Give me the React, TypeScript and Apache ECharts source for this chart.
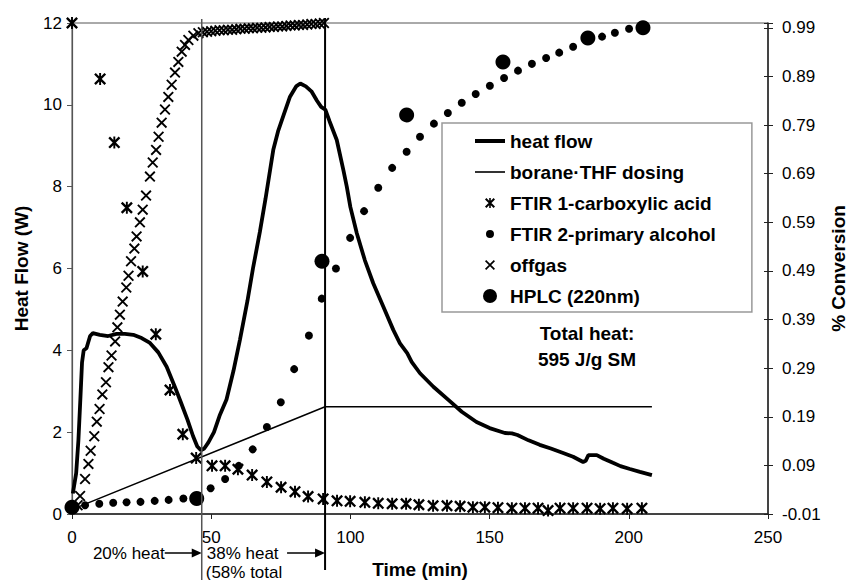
import React, { useEffect, useRef } from 'react';
import * as echarts from 'echarts';

const FONT = '"Liberation Sans", Arial, Helvetica, sans-serif';

// x axis (min) and axis ranges
const xTicks = { min: 0, max: 250, interval: 50 };
const heatTicks = { min: 0, max: 12, interval: 2 };
const convTicks = { min: -0.01, max: 1.0, interval: 0.1 };

// dosing phase boundaries (min)
const phaseMarks = [46.6, 90.9];

// heat flow (W) vs time (min)
const heatFlow: number[][] = [
  [0.3, 0.5], [1.5, 1.0], [2.3, 1.8], [3.0, 2.8], [3.6, 3.7], [4.2, 4.0], [5.2, 4.05], [6.5, 4.35],
  [7.5, 4.42], [10, 4.38], [13, 4.35], [16, 4.4], [19, 4.4], [22, 4.38], [25, 4.3], [28, 4.18],
  [31, 3.95], [34, 3.6], [37, 3.1], [39, 2.75], [41.5, 2.3], [43.5, 1.9], [45, 1.65], [46.3, 1.56],
  [47.5, 1.6], [49, 1.75], [51, 2.0], [53, 2.4], [55.5, 2.8], [58, 3.5], [60.3, 4.25], [63, 5.2],
  [65, 6.0], [67.5, 6.9], [69.5, 7.7], [72.3, 8.9], [74, 9.35], [76, 9.75], [78.3, 10.2], [80.5, 10.45],
  [82, 10.52], [84, 10.45], [86, 10.33], [88, 10.1], [89.5, 9.95], [91, 9.88], [92.5, 9.6], [95.1, 9.14],
  [97.5, 8.4], [98.7, 8.0], [100, 7.5], [102.3, 6.86], [105.2, 6.2], [108.2, 5.64], [111.8, 5.07],
  [115.4, 4.5], [117.8, 4.17], [120.4, 3.93], [122, 3.72], [125, 3.44], [129.8, 3.11], [135.5, 2.77],
  [140, 2.5], [145.3, 2.25], [150, 2.1], [155.5, 1.98], [158, 1.97], [160, 1.93], [164, 1.8],
  [168, 1.69], [172, 1.6], [176.4, 1.49], [180, 1.4], [183.6, 1.27], [184.5, 1.3], [185.5, 1.44],
  [188.5, 1.44], [191, 1.35], [194.3, 1.25], [197, 1.17], [200.4, 1.1], [204, 1.03], [208.3, 0.95]
];

// borane-THF dosing profile (W axis)
const dosing: number[][] = [[2.5, 0.18], [90.9, 2.62], [208.3, 2.62]];

// FTIR 1-carboxylic acid (conversion)
const carboxylicAcid: number[][] = [
  [0, 1.0], [10.1, 0.885], [15.2, 0.754], [19.7, 0.62], [25.4, 0.489], [30.1, 0.36], [35.2, 0.245],
  [39.8, 0.154], [44.6, 0.105], [50.3, 0.089], [55, 0.089], [59.6, 0.082], [64.7, 0.07], [70, 0.056],
  [75.1, 0.045], [80.1, 0.036], [84.8, 0.026], [90.2, 0.021], [95.2, 0.017], [99.9, 0.016],
  [105.2, 0.014], [110, 0.012], [115, 0.011], [120, 0.011], [124.6, 0.009], [129.7, 0.007],
  [134.7, 0.007], [139.4, 0.006], [144, 0.004], [148.3, 0.004], [153, 0.003], [158, 0.002],
  [162.7, 0.002], [167.4, 0.002], [171, -0.003], [175.3, 0.002], [180, 0.002], [185, 0.002],
  [189.7, 0.001], [194.3, 0.002], [199.4, 0.001], [204.7, 0.002]
];

// FTIR 2-primary alcohol (conversion)
const primaryAlcohol: number[][] = [
  [4.7, 0.008], [9.8, 0.011], [14.8, 0.013], [19.6, 0.014], [24.6, 0.015], [29.7, 0.017], [34.7, 0.019],
  [40, 0.022], [49.8, 0.043], [55, 0.062], [59.9, 0.089], [64.9, 0.123], [70, 0.169], [75, 0.22],
  [79.8, 0.288], [85.1, 0.357], [89.7, 0.433], [94.8, 0.495], [99.9, 0.558], [104.9, 0.613],
  [110, 0.661], [115, 0.702], [120.2, 0.735], [125, 0.766], [130, 0.793], [135, 0.815], [140, 0.836],
  [145, 0.854], [150.1, 0.871], [155.2, 0.887], [160.2, 0.902], [165.2, 0.916], [170.3, 0.928],
  [175, 0.939], [180, 0.951], [190.4, 0.972], [195, 0.98], [200.1, 0.988]
];

// offgas (conversion)
const offgas: number[][] = [
  [2.0, 0.008], [2.9, 0.027], [4.7, 0.062], [5.9, 0.093], [6.7, 0.12], [8, 0.15], [8.9, 0.18],
  [9.9, 0.206], [10.9, 0.236], [12.2, 0.261], [13.1, 0.292], [14.2, 0.316], [15.5, 0.345],
  [16.3, 0.374], [17.2, 0.4], [18.2, 0.427], [19.5, 0.456], [20.3, 0.48], [21.2, 0.51], [22.4, 0.536],
  [23.2, 0.561], [24.4, 0.59], [25.4, 0.616], [26.6, 0.645], [28, 0.684], [29, 0.713], [30.2, 0.739],
  [31.1, 0.766], [32.2, 0.795], [33.4, 0.822], [34.6, 0.848], [35.8, 0.873], [37, 0.898], [38.2, 0.92],
  [39.4, 0.941], [40.6, 0.955], [41.8, 0.965], [43.6, 0.974], [45.4, 0.979], [47, 0.981],
  [48.5, 0.982], [50, 0.983], [51.5, 0.984], [53, 0.985], [54.5, 0.985], [56, 0.986], [57.5, 0.986],
  [59, 0.987], [60.5, 0.988], [62, 0.988], [63.5, 0.989], [65, 0.989], [66.5, 0.99], [68, 0.99],
  [69.5, 0.991], [71, 0.992], [72.5, 0.992], [74, 0.993], [75.5, 0.993], [77, 0.994], [78.5, 0.995],
  [80, 0.995], [81.5, 0.996], [83, 0.996], [84.5, 0.997], [86, 0.998], [87.5, 0.998], [89, 0.999],
  [90.5, 1.0]
];

// HPLC (220nm) (conversion)
const hplc: number[][] = [
  [0, 0.004], [44.8, 0.022], [89.8, 0.51], [120.2, 0.811], [154.8, 0.92], [185.3, 0.969], [205.1, 0.99]
];

const seriesNames = [
  'heat flow',
  'borane\u00b7THF dosing',
  'FTIR 1-carboxylic acid',
  'FTIR 2-primary alcohol',
  'offgas',
  'HPLC (220nm)'
];

const annotationTexts = ['20% heat', '38% heat', '(58% total', 'Total heat:', '595 J/g SM'];

const ASTERISK = 'path://M0,1.4L1.4,0L10,8.6L8.6,10Z M8.6,0L10,1.4L1.4,10L0,8.6Z M4.2,0H5.8V10H4.2Z';
const CROSS = 'path://M0,1.2L1.2,0L10,8.8L8.8,10Z M8.8,0L10,1.2L1.2,10L0,8.8Z';
const SPECK = ' M0,0h0.01v0.01h-0.01Z M14,14h0.01v0.01h-0.01Z';
const LEG_THICK = 'path://M0,0h30v4h-30Z';
const LEG_THIN = 'path://M0,0h30v1.6h-30Z';
const LEG_AST = 'path://M2,3.4L3.4,2L12,10.6L10.6,12Z M10.6,2L12,3.4L3.4,12L2,10.6Z M6.2,2H7.8V12H6.2Z' + SPECK;
const LEG_DOT = 'path://M3,7A4,4 0 1,1 11,7A4,4 0 1,1 3,7Z' + SPECK;
const LEG_CROSS = 'path://M2,3.2L3.2,2L12,10.8L10.8,12Z M10.8,2L12,3.2L3.2,12L2,10.8Z' + SPECK;
const LEG_BIG = 'path://M0,7A7,7 0 1,1 14,7A7,7 0 1,1 0,7Z';

export default function App() {
  const ref = useRef<HTMLDivElement>(null);

  useEffect(() => {
    if (!ref.current) return;
    const chart = echarts.init(ref.current, undefined, { renderer: 'svg' });
    const axisLabelStyle = { fontSize: 17, color: '#000', fontFamily: FONT };
    const nameStyle = { fontSize: 19, fontWeight: 'bold', color: '#000', fontFamily: FONT };
    const markStyle = { color: '#000', opacity: 1 };

    const option: any = {
      animation: false,
      backgroundColor: '#fff',
      textStyle: { fontFamily: FONT },
      grid: {
        left: 72, right: 81, top: 23, bottom: 66,
        show: true, borderColor: '#555', borderWidth: 1,
        containLabel: false, outerBoundsMode: 'none'
      },
      xAxis: {
        type: 'value', ...xTicks,
        name: 'Time (min)', nameLocation: 'middle', nameGap: 46, nameTextStyle: nameStyle,
        nameMoveOverlap: false,
        axisLine: { show: true, onZero: false, lineStyle: { color: '#222', width: 1.5 } },
        axisTick: { show: true, length: 5, lineStyle: { color: '#222' } },
        axisLabel: { ...axisLabelStyle, margin: 15 },
        splitLine: { show: false }
      },
      yAxis: [
        {
          type: 'value', position: 'left', ...heatTicks,
          name: 'Heat Flow (W)', nameLocation: 'middle', nameRotate: 90, nameGap: 41, nameTextStyle: nameStyle,
          nameMoveOverlap: false,
          axisLine: { show: true, lineStyle: { color: '#555', width: 1.2 } },
          axisTick: { show: true, length: 5, lineStyle: { color: '#555' } },
          axisLabel: { ...axisLabelStyle, margin: 10 },
          splitLine: { show: false }
        },
        {
          type: 'value', position: 'right', ...convTicks,
          name: '% Conversion', nameLocation: 'middle', nameRotate: 90, nameGap: 61, nameTextStyle: nameStyle,
          nameMoveOverlap: false,
          axisLine: { show: true, lineStyle: { color: '#222', width: 1.5 } },
          axisTick: { show: true, length: 5, lineStyle: { color: '#222' } },
          axisLabel: {
            ...axisLabelStyle, margin: 14,
            formatter: (v: number) => (v > 0.995 ? '' : v.toFixed(2))
          },
          splitLine: { show: false }
        },
        {
          type: 'value', position: 'right', ...convTicks,
          axisLine: { show: false },
          axisTick: { show: true, inside: true, length: 4, lineStyle: { color: '#222' } },
          axisLabel: { show: false },
          splitLine: { show: false }
        }
      ],
      legend: {
        orient: 'vertical', left: 442, top: 123,
        padding: [8, 36, 6, 33], itemGap: 11, itemWidth: 30, itemHeight: 14, itemTextGap: 4,
        backgroundColor: '#fff', borderColor: '#999', borderWidth: 1.5,
        selectedMode: false,
        textStyle: { fontSize: 19, fontWeight: 'bold', color: '#000', lineHeight: 20, fontFamily: FONT },
        data: [
          { name: seriesNames[0], icon: LEG_THICK },
          { name: seriesNames[1], icon: LEG_THIN },
          { name: seriesNames[2], icon: LEG_AST },
          { name: seriesNames[3], icon: LEG_DOT },
          { name: seriesNames[4], icon: LEG_CROSS },
          { name: seriesNames[5], icon: LEG_BIG }
        ]
      },
      series: [
        {
          name: seriesNames[0], type: 'line', yAxisIndex: 0, data: heatFlow, color: '#000',
          showSymbol: false, symbol: 'none', lineStyle: { color: '#000', width: 3.8 }, z: 4
        },
        {
          name: seriesNames[1], type: 'line', yAxisIndex: 0, data: dosing, color: '#000',
          showSymbol: false, symbol: 'none', lineStyle: { color: '#000', width: 1.5 }, z: 3
        },
        {
          name: seriesNames[2], type: 'scatter', yAxisIndex: 1, data: carboxylicAcid, color: '#000',
          symbol: ASTERISK, symbolSize: 12, itemStyle: markStyle, z: 5
        },
        {
          name: seriesNames[3], type: 'scatter', yAxisIndex: 1, data: primaryAlcohol, color: '#000',
          symbol: 'circle', symbolSize: 8, itemStyle: markStyle, z: 5
        },
        {
          name: seriesNames[4], type: 'scatter', yAxisIndex: 1, data: offgas, color: '#000',
          symbol: CROSS, symbolSize: 11, itemStyle: markStyle, z: 5
        },
        {
          name: seriesNames[5], type: 'scatter', yAxisIndex: 1, data: hplc, color: '#000',
          symbol: 'circle', symbolSize: 15, itemStyle: markStyle, z: 5
        }
      ]
    };

    chart.setOption(option);

    const x1 = chart.convertToPixel({ xAxisIndex: 0 }, phaseMarks[0]) as number;
    const x2 = chart.convertToPixel({ xAxisIndex: 0 }, phaseMarks[1]) as number;
    const yRow = 553;
    const annStyle = { fontSize: 17, fill: '#000', fontFamily: FONT, verticalAlign: 'middle' };
    const boldStyle = { fontSize: 19, fontWeight: 'bold', fill: '#000', fontFamily: FONT, align: 'center', verticalAlign: 'middle' };

    chart.setOption({
      graphic: [
        { type: 'line', z: 10, shape: { x1: x1, y1: 19, x2: x1, y2: 580 }, style: { stroke: '#555', lineWidth: 1.5 } },
        { type: 'line', z: 10, shape: { x1: x2, y1: 18, x2: x2, y2: 570 }, style: { stroke: '#000', lineWidth: 2 } },
        { type: 'text', x: x1 - 37, y: yRow, style: { ...annStyle, text: annotationTexts[0], align: 'right' } },
        { type: 'line', shape: { x1: x1 - 37, y1: yRow, x2: x1 - 8, y2: yRow }, style: { stroke: '#000', lineWidth: 1.5 } },
        { type: 'polygon', shape: { points: [[x1 - 10, yRow - 4.5], [x1, yRow], [x1 - 10, yRow + 4.5]] }, style: { fill: '#000' } },
        { type: 'text', x: x1 + 5, y: yRow, style: { ...annStyle, text: annotationTexts[1], align: 'left' } },
        { type: 'line', shape: { x1: x2 - 38, y1: yRow, x2: x2 - 8, y2: yRow }, style: { stroke: '#000', lineWidth: 1.5 } },
        { type: 'polygon', shape: { points: [[x2 - 10, yRow - 4.5], [x2, yRow], [x2 - 10, yRow + 4.5]] }, style: { fill: '#000' } },
        { type: 'text', x: x1 + 4, y: 572, style: { ...annStyle, text: annotationTexts[2], align: 'left' } },
        { type: 'text', x: 587, y: 333, style: { ...boldStyle, text: annotationTexts[3] } },
        { type: 'text', x: 587, y: 359, style: { ...boldStyle, text: annotationTexts[4] } }
      ]
    });

    return () => chart.dispose();
  }, []);

  return (
    <div
      ref={ref}
      style={{ position: 'fixed', left: 0, top: 0, width: 849, height: 580, background: '#fff' }}
    />
  );
}
